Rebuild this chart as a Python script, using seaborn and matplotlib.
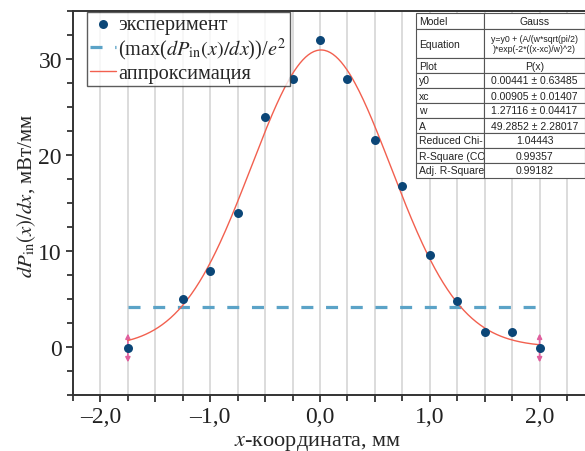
import numpy as np
import pandas as pd
import matplotlib
matplotlib.use("Agg")
import matplotlib.pyplot as plt
import seaborn as sns
from matplotlib.ticker import MultipleLocator, FuncFormatter

# experimental points
x_exp = [-1.75, -1.25, -1.0, -0.75, -0.5, -0.25, 0.0, 0.25, 0.5, 0.75, 1.0, 1.25, 1.5, 1.75, 2.0]
y_exp = [-0.1, 5.0, 7.95, 13.95, 23.95, 27.95, 31.95, 27.95, 21.55, 16.8, 9.55, 4.8, 1.55, 1.55, -0.1]

# Gauss fit parameters (from the fit table)
y0, xc, w, A = 0.00441, 0.00905, 1.27116, 49.2852
fit_range = [-1.75, 2.0]

# level max/e^2
level_x = [-1.75, 2.0]
level_y = [4.19, 4.19]

# end markers (double arrows)
arrow_x = [-1.75, 2.0]
arrow_y = [-0.1, -0.1]
arrow_half = 1.5

table_rows = [
    ["Model", "Gauss"],
    ["Equation", "y=y0 + (A/(w*sqrt(pi/2)\n)*exp(-2*((x-xc)/w)^2)"],
    ["Plot", "P(x)"],
    ["y0", "0.00441 ± 0.63485"],
    ["xc", "0.00905 ± 0.01407"],
    ["w", "1.27116 ± 0.04417"],
    ["A", "49.2852 ± 2.28017"],
    ["Reduced Chi-", "1.04443"],
    ["R-Square (CO", "0.99357"],
    ["Adj. R-Square", "0.99182"],
]
row_heights = [16, 29, 15, 15, 15, 15, 15, 15, 15, 15]

sns.set_theme(style="ticks")
plt.rcParams["font.family"] = ["Liberation Serif", "DejaVu Serif"]
plt.rcParams["mathtext.fontset"] = "stix"

W, H = 585, 452
fig = plt.figure(figsize=(W / 100, H / 100), dpi=100)
ax_l, ax_r, ax_b, ax_t = 73, 594.5, 396, 12
ax = fig.add_axes([ax_l / W, (H - ax_b) / H, (ax_r - ax_l) / W, (ax_b - ax_t) / H])

xs = np.linspace(fit_range[0], fit_range[1], 300)
fit_df = pd.DataFrame({
    "x": xs,
    "y": y0 + A / (w * np.sqrt(np.pi / 2)) * np.exp(-2 * ((xs - xc) / w) ** 2),
})
exp_df = pd.DataFrame({"x": x_exp, "y": y_exp})

ax.grid(True, axis="x", which="both", color="#d6d6d6", lw=1.2)
ax.set_axisbelow(True)

for xa, ya in zip(arrow_x, arrow_y):
    ax.annotate("", xy=(xa, ya - arrow_half), xytext=(xa, ya + arrow_half),
                arrowprops=dict(arrowstyle="<|-|>", color="#e0609e", lw=1.2,
                                mutation_scale=7, shrinkA=0, shrinkB=0),
                zorder=2)

ax.plot(level_x, level_y, color="#5ba3c7", lw=2.3, dashes=(3.76, 3.97),
        label=r"(max($dP_{\rm in}(x)/dx$))/$e^2$", zorder=3)
sns.lineplot(data=fit_df, x="x", y="y", ax=ax, color="#f2604f", lw=1.0,
             label="аппроксимация", zorder=4)
sns.scatterplot(data=exp_df, x="x", y="y", ax=ax, color="#0b4677", s=42,
                edgecolor="#0b4677", linewidth=0, label="эксперимент", zorder=5)

ax.set_xlim(-2.25, 2.5)
ax.set_ylim(-5, 35)
ax.xaxis.set_major_locator(MultipleLocator(0.5))
ax.xaxis.set_minor_locator(MultipleLocator(0.25))
ax.yaxis.set_major_locator(MultipleLocator(10))
ax.yaxis.set_minor_locator(MultipleLocator(2.5))


def xfmt(v, pos):
    if abs(v - round(v)) > 1e-6:
        return ""
    s = f"{abs(v):.1f}".replace(".", ",")
    return ("\u2013" + s) if v < -1e-9 else s


ax.xaxis.set_major_formatter(FuncFormatter(xfmt))
ax.yaxis.set_major_formatter(FuncFormatter(lambda v, p: f"{v:.0f}"))
ax.tick_params(axis="both", which="major", direction="out", length=5, width=1.2,
               labelsize=17, colors="#222222", pad=3)
ax.tick_params(axis="both", which="minor", direction="out", length=4, width=1.2,
               colors="#222222")
for sp in ax.spines.values():
    sp.set_color("#333333")
    sp.set_linewidth(1.4)

ax.set_xlabel(r"$x$-координата, мм", fontsize=16, va="baseline")
ax.set_ylabel(r"$dP_{\rm in}(x)/dx$, мВт/мм", fontsize=15)
ax.xaxis.set_label_coords((318 - ax_l) / (ax_r - ax_l), (ax_b - 446) / (ax_b - ax_t))
ax.yaxis.set_label_coords((38 - ax_l) / (ax_r - ax_l), (ax_b - 196) / (ax_b - ax_t))

handles, labels = ax.get_legend_handles_labels()
order = [labels.index("эксперимент"),
         labels.index(r"(max($dP_{\rm in}(x)/dx$))/$e^2$"),
         labels.index("аппроксимация")]
leg = ax.legend([handles[i] for i in order], [labels[i] for i in order],
                loc="upper left", bbox_to_anchor=((87 - ax_l) / (ax_r - ax_l), 1.0 - 1 / (ax_b - ax_t)),
                borderaxespad=0, fontsize=14.6, frameon=True, fancybox=False,
                handlelength=1.3, handletextpad=0.1, labelspacing=0.08,
                borderpad=0.15, scatterpoints=1)
leg.get_frame().set_edgecolor("#333333")
leg.get_frame().set_linewidth(1.0)

# fit-results table
tb_l, tb_r, tb_t, tb_b = 416, 585, 14, 179
tab = ax.table(cellText=table_rows, cellLoc="center",
               bbox=[(tb_l - ax_l) / (ax_r - ax_l), (ax_b - tb_b) / (ax_b - ax_t),
                     (tb_r - tb_l) / (ax_r - ax_l), (tb_b - tb_t) / (ax_b - ax_t)],
               colWidths=[68, 101], zorder=6)
tab.auto_set_font_size(False)
tab.set_fontsize(7.5)
for (r, c), cell in tab.get_celld().items():
    cell.set_height(row_heights[r])
    cell.set_edgecolor("#555555")
    cell.set_linewidth(0.8)
    cell.set_facecolor("white")
    cell.get_text().set_fontfamily("Liberation Sans")
    cell.get_text().set_color("#222222")
    if c == 0:
        cell.get_text().set_horizontalalignment("left")
        cell.PAD = 0.04
    if r == 1 and c == 1:
        cell.get_text().set_fontsize(6.3)
        cell.get_text().set_linespacing(1.0)

fig.savefig("out.png", dpi=100)
